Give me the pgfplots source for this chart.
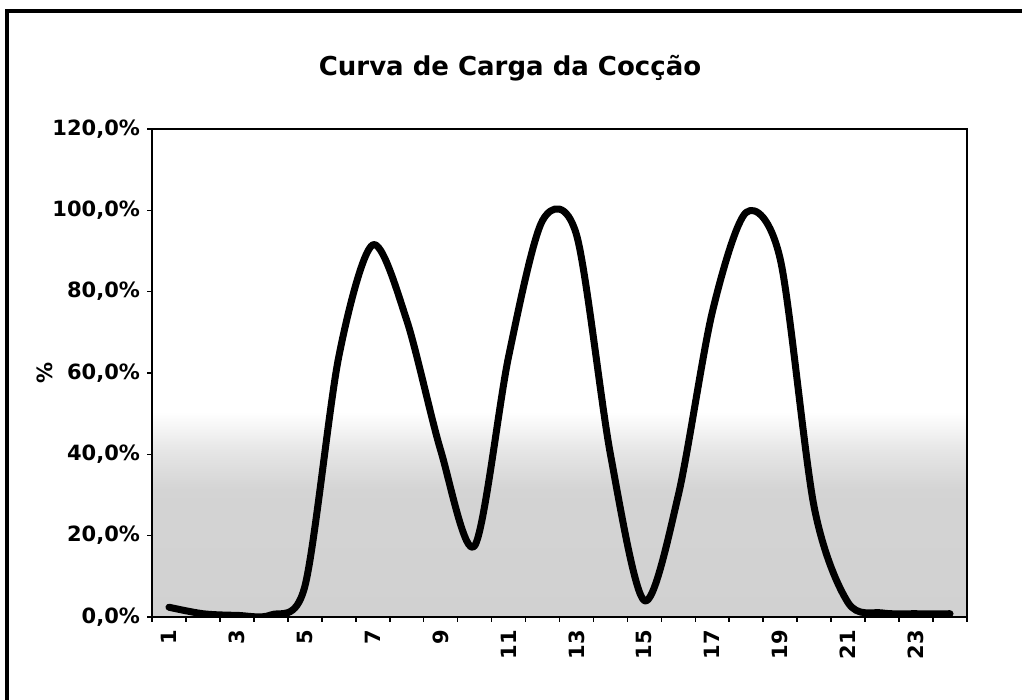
\documentclass[border=0pt]{standalone}
\usepackage{fontspec}
\setmainfont{DejaVu Sans}
\usepackage{pgfplots}
\usepackage{pgfplotstable}
\pgfplotsset{compat=1.18}
\pgfdeclareverticalshading{scan}{100bp}{color(0bp)=(black!18); color(25bp)=(black!18); color(38bp)=(black!17); color(42bp)=(black!10); color(46bp)=(white); color(100bp)=(white)}
\pgfplotstableread{
h v
1 2.4
2 0.8
3 0.4
4 0.5
5 7.5
6 64
7 91.5
8 73
9 41
10 17.5
11 64
12 97.5
13 94
14 40
15 4
16 30
17 75
18 99.5
19 88
20 27
21 3.5
22 1
23 0.8
24 0.8
}\loaddata
\begin{document}
\begin{tikzpicture}
\path[use as bounding box] (0,0) rectangle (511pt,350pt);
\draw[line width=2pt] (3.5pt,0) -- (3.5pt,344.5pt) -- (511pt,344.5pt);
\node[font=\bfseries\fontsize{13}{15}\selectfont] at (255pt,316pt) {Curva de Carga da Cocção};
\begin{axis}[
  at={(76pt,41.5pt)}, anchor=south west,
  scale only axis, width=407.5pt, height=244pt,
  xmin=0.5, xmax=24.5, ymin=0, ymax=120,
  axis line style={line width=1pt},
  xtick={0.5,1.5,...,24.5}, xticklabels={},
  extra x ticks={1,3,...,23},
  extra x tick labels={1,3,5,7,9,11,13,15,17,19,21,23},
  extra x tick style={major tick length=0pt, tick label style={yshift=-3pt,rotate=90,anchor=east}},
  ytick={0,20,...,120},
  yticklabels={{0,0\%},{20,0\%},{40,0\%},{60,0\%},{80,0\%},{100,0\%},{120,0\%}},
  tick align=outside, tick pos=left, major tick length=2.5pt,
  every tick/.style={black, line width=0.8pt},
  tick label style={font=\bfseries\fontsize{10.5}{12}\selectfont},
  ylabel={\%},
  ylabel style={at={(axis description cs:-0.132,0.5)}, anchor=center, font=\bfseries\fontsize{10.5}{12}\selectfont},
  axis background/.style={shading=scan},
]
\addplot[black, line width=3.5pt, smooth, tension=0.5, line join=round, line cap=round] table[x=h,y=v]{\loaddata};
\end{axis}
\end{tikzpicture}
\end{document}
